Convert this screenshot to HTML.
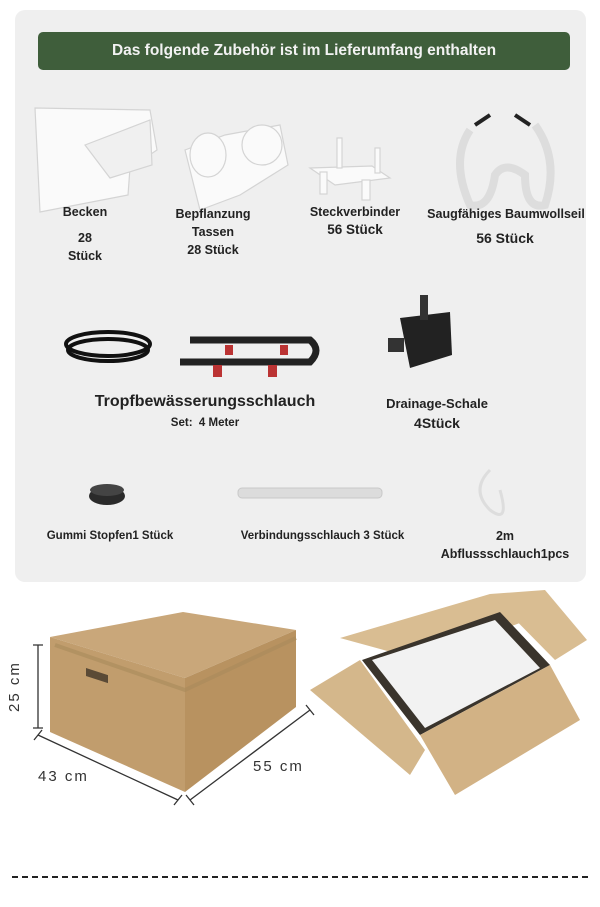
<!DOCTYPE html>
<html><head><meta charset="utf-8"><style>
body{margin:0;width:600px;height:907px;background:#fff;position:relative;overflow:hidden;font-family:"Liberation Sans",sans-serif}
.card{position:absolute;left:15px;top:10px;width:571px;height:572px;background:#efefef;border-radius:10px}
.banner{position:absolute;left:38px;top:32px;width:532px;height:38px;background:#3f5e3b;border-radius:5px;color:#f2f2f2;font-weight:bold;font-size:15.5px;text-align:center;line-height:38px}
.t{position:absolute;font-weight:bold;font-size:12.5px;color:#222;text-align:center;line-height:18px}
.d{position:absolute;font-size:15px;color:#333;letter-spacing:2px}
</style></head><body>
<div class="card"></div>
<div class="banner">Das folgende Zubehör ist im Lieferumfang enthalten</div>
<svg width="600" height="907" style="position:absolute;left:0;top:0">
<g fill="#fafafa" stroke="#d4d4d4" stroke-width="1.2">
<path d="M35 108 L150 110 L157 150 L130 168 L128 195 L40 212 Z"/>
<path d="M85 145 L150 120 L152 165 L110 178 Z" fill="#f0f0f0"/>
<path d="M185 150 L225 135 L280 125 L288 165 L240 195 L200 210 Z"/>
<ellipse cx="208" cy="155" rx="18" ry="22"/><ellipse cx="262" cy="145" rx="20" ry="20"/>
<path d="M310 168 L372 166 L390 178 L335 185 Z"/><rect x="337" y="138" width="5" height="30"/><rect x="375" y="148" width="5" height="25"/>
<rect x="362" y="180" width="8" height="20"/><rect x="320" y="172" width="7" height="22"/>
<path d="M470 130 Q450 160 470 205 Q490 210 495 175 Q505 160 525 175 Q525 210 545 205 Q560 160 535 125" fill="none" stroke="#ddd" stroke-width="8"/>
</g>
<path d="M475 125 L490 115 M515 115 L530 125" stroke="#222" stroke-width="4"/>
<g fill="none" stroke="#111" stroke-width="4"><ellipse cx="108" cy="344" rx="42" ry="12"/><ellipse cx="108" cy="350" rx="40" ry="11"/></g>
<g stroke="#222" stroke-width="7" fill="none"><path d="M180 362 L310 362 Q322 350 310 340 L190 340"/></g>
<g fill="#b33"><rect x="213" y="365" width="9" height="12"/><rect x="268" y="365" width="9" height="12"/><rect x="225" y="345" width="8" height="10"/><rect x="280" y="345" width="8" height="10"/></g>
<path d="M400 318 L450 312 L452 355 L410 368 Z" fill="#222"/><rect x="388" y="338" width="16" height="14" fill="#333"/><rect x="420" y="295" width="8" height="25" fill="#333"/>
<ellipse cx="107" cy="496" rx="18" ry="9" fill="#2a2a2a"/><ellipse cx="107" cy="490" rx="17" ry="6" fill="#444"/>
<rect x="238" y="488" width="144" height="10" rx="4" fill="#dcdcdc" stroke="#c8c8c8"/>
<path d="M490 470 Q470 490 490 510 Q510 525 500 490" fill="none" stroke="#ddd" stroke-width="3"/>
<!-- closed box -->
<path d="M50 637 L183 612 L296 630 L185 678 Z" fill="#c9a77a"/>
<path d="M50 637 L185 678 L185 792 L50 732 Z" fill="#c19d6d"/>
<path d="M185 678 L296 630 L296 707 L185 792 Z" fill="#b89260"/>
<path d="M55 645 L185 690 L296 638" stroke="#a88a5c" stroke-width="4" fill="none" opacity=".6"/>
<rect x="86" y="668" width="22" height="8" fill="#5a4a36" transform="skewY(18) translate(0,-28)"/>
<g stroke="#333" stroke-width="1.3" fill="none">
<path d="M38 645 L38 728 M33 645 L43 645 M33 728 L43 728"/>
<path d="M38 735 L178 800 M34 740 L42 730 M174 805 L182 795"/>
<path d="M190 800 L310 710 M186 795 L194 805 M306 705 L314 715"/>
</g>
<!-- open box -->
<path d="M340 638 L490 594 L555 610 L420 660 Z" fill="#d9bd92"/>
<path d="M490 594 L545 590 L587 640 L555 660 Z" fill="#d9bd92"/>
<path d="M362 660 L500 612 L550 665 L420 735 Z" fill="#3a342c"/>
<path d="M372 660 L495 620 L540 668 L425 728 Z" fill="#f2f2f2"/>
<path d="M310 690 L360 660 L425 750 L410 775 Z" fill="#d4b78b"/>
<path d="M420 735 L550 665 L580 720 L455 795 Z" fill="#d2b285"/>
</svg>
<div class="t" style="left:45px;top:203px;width:80px">Becken</div>
<div class="t" style="left:45px;top:229px;width:80px">28<br>Stück</div>
<div class="t" style="left:163px;top:205px;width:100px">Bepflanzung<br>Tassen<br>28 Stück</div>
<div class="t" style="left:295px;top:203px;width:120px">Steckverbinder<br><span style="font-size:13.5px">56 Stück</span></div>
<div class="t" style="left:420px;top:205px;width:172px">Saugfähiges Baumwollseil</div>
<div class="t" style="left:440px;top:229px;width:130px;font-size:14px">56 Stück</div>
<div class="t" style="left:60px;top:393px;width:290px;font-size:16px">Tropfbewässerungsschlauch</div>
<div class="t" style="left:150px;top:414px;width:110px;font-size:11.5px">Set:&nbsp; 4 Meter</div>
<div class="t" style="left:362px;top:395px;width:150px;font-size:13px">Drainage-Schale</div>
<div class="t" style="left:362px;top:414px;width:150px;font-size:14px">4Stück</div>
<div class="t" style="left:30px;top:527px;width:160px;font-size:11.5px">Gummi Stopfen1 Stück</div>
<div class="t" style="left:220px;top:527px;width:205px;font-size:11.5px">Verbindungsschlauch 3 Stück</div>
<div class="t" style="left:430px;top:527px;width:150px">2m<br>Abflussschlauch1pcs</div>
<div class="d" style="left:6px;transform:rotate(-90deg);transform-origin:left top;top:712px">25 cm</div>
<div class="d" style="left:38px;top:768px">43 cm</div>
<div class="d" style="left:253px;top:758px">55 cm</div>
<div style="position:absolute;left:12px;top:876px;width:576px;border-top:2px dashed #222"></div>
</body></html>
